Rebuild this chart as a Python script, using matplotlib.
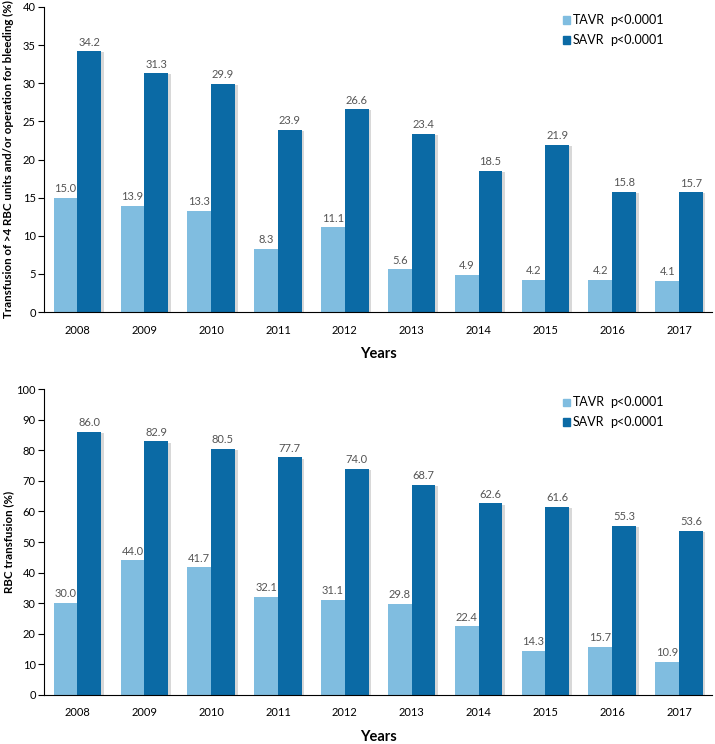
import matplotlib.pyplot as plt
import numpy as np

# data
years = ['2008', '2009', '2010', '2011', '2012', '2013', '2014', '2015', '2016', '2017']
tavr_bleed = [15.0, 13.9, 13.3, 8.3, 11.1, 5.6, 4.9, 4.2, 4.2, 4.1]
savr_bleed = [34.2, 31.3, 29.9, 23.9, 26.6, 23.4, 18.5, 21.9, 15.8, 15.7]
tavr_rbc = [30.0, 44.0, 41.7, 32.1, 31.1, 29.8, 22.4, 14.3, 15.7, 10.9]
savr_rbc = [86.0, 82.9, 80.5, 77.7, 74.0, 68.7, 62.6, 61.6, 55.3, 53.6]

c_tavr = '#80bde0'
c_savr = '#0b6aa5'

plt.rcParams['font.family'] = ['Lato', 'DejaVu Sans']

fig = plt.figure(figsize=(7.15, 7.44), dpi=100)
ax1 = fig.add_axes([0.0615, 0.5806, 0.935, 0.41])
ax2 = fig.add_axes([0.0615, 0.066, 0.935, 0.411])

x = np.arange(len(years))
w = 0.355


def draw(ax, tavr, savr, ymax, step, ylabel, off):
    # soft shadow behind bars
    ax.bar(x - w / 2 + 0.04, tavr, w, bottom=-off, color='#d8d8d8', zorder=1)
    ax.bar(x + w / 2 + 0.04, savr, w, bottom=-off, color='#d8d8d8', zorder=1)
    ax.bar(x - w / 2, tavr, w, color=c_tavr, zorder=2)
    ax.bar(x + w / 2, savr, w, color=c_savr, zorder=2)
    for i in range(len(x)):
        ax.text(x[i] - w / 2, tavr[i] + ymax * 0.012, '%.1f' % tavr[i], ha='center', va='bottom',
                fontsize=8, color='#555555')
        ax.text(x[i] + w / 2, savr[i] + ymax * 0.012, '%.1f' % savr[i], ha='center', va='bottom',
                fontsize=8, color='#555555')
    ax.set_xlim(-0.5, len(x) - 0.5)
    ax.set_ylim(0, ymax)
    ax.set_yticks(np.arange(0, ymax + 1, step))
    ax.set_xticks(x)
    ax.set_xticklabels(years)
    ax.tick_params(axis='x', length=0, pad=9, labelsize=8)
    ax.tick_params(axis='y', length=4, labelsize=8, pad=2, direction='out')
    ax.spines['top'].set_visible(False)
    ax.spines['right'].set_visible(False)
    ax.set_ylabel(ylabel, fontsize=8.3, fontweight='bold')
    ax.yaxis.set_label_coords(-0.045, 0.5)
    ax.set_xlabel('Years', fontsize=10.5, fontweight='bold', labelpad=8)
    # legend drawn by hand
    for yy, col, name in [(0.957, c_tavr, 'TAVR'), (0.892, c_savr, 'SAVR')]:
        ax.add_patch(plt.Rectangle((0.776, yy - 0.012), 0.0105, 0.024, transform=ax.transAxes,
                                   color=col, clip_on=False))
        ax.text(0.791, yy, name, transform=ax.transAxes, fontsize=9, va='center')
        ax.text(0.847, yy, 'p<0.0001', transform=ax.transAxes, fontsize=9, va='center')


draw(ax1, tavr_bleed, savr_bleed, 40, 5, 'Transfusion of >4 RBC units and/or operation for bleeding (%)', 0.15)
draw(ax2, tavr_rbc, savr_rbc, 100, 10, 'RBC transfusion (%)', 0.4)

fig.savefig('out.png', dpi=100)
